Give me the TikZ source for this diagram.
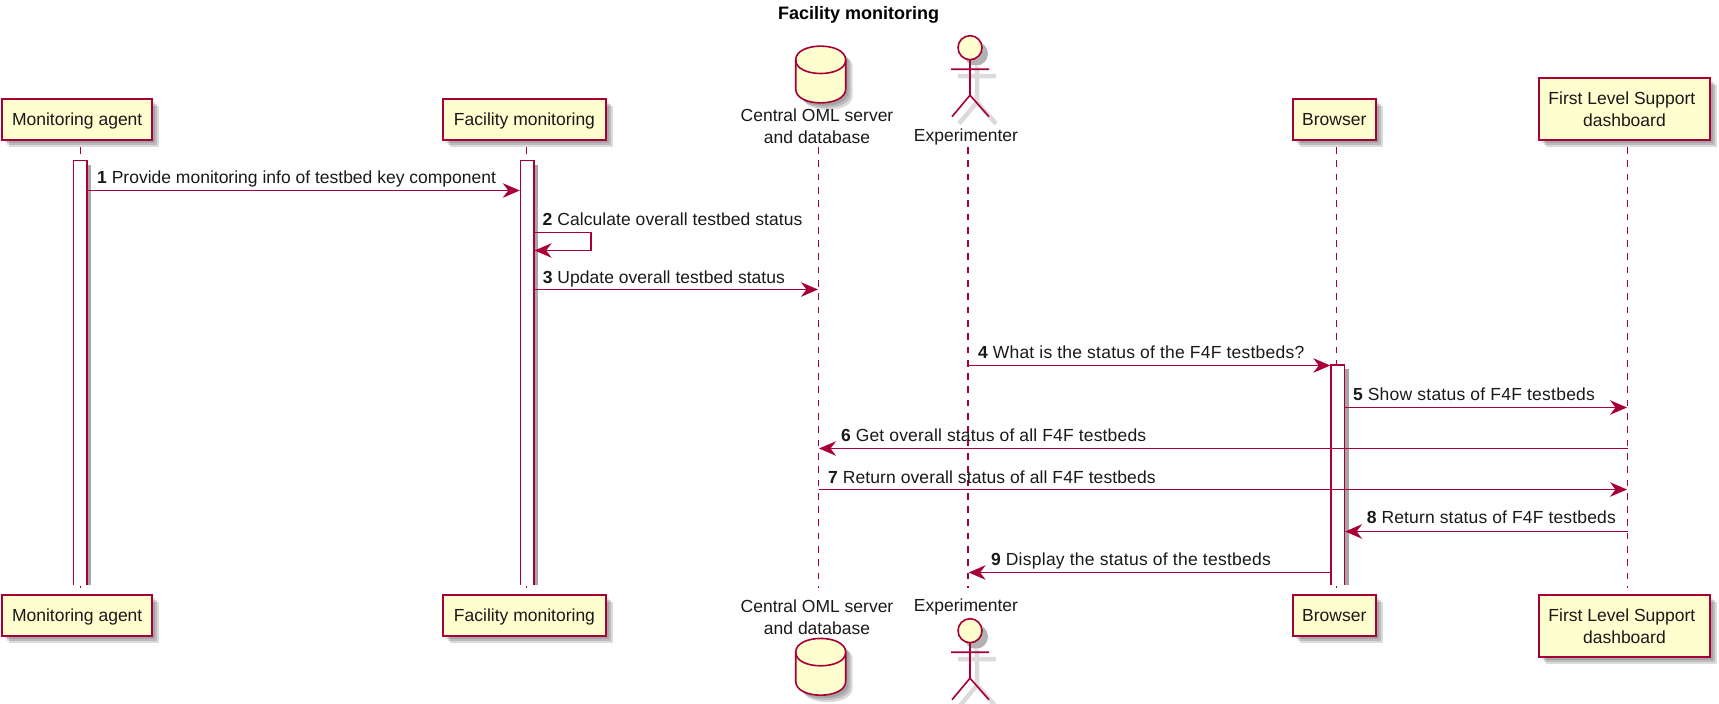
\documentclass[tikz,border=0pt]{standalone}
\usepackage{fontspec}
\setmainfont{Liberation Sans}
\usetikzlibrary{arrows.meta, shadows, calc}
\definecolor{umlRed}{HTML}{A80036}
\definecolor{umlFill}{HTML}{FEFECE}
\newcommand{\lblfont}{\fontsize{17.5}{21.7}\selectfont}

\tikzset{
  softshadow/.style={
    general shadow={shadow xshift=3pt, shadow yshift=-3pt, fill=black, opacity=.12},
    general shadow={shadow xshift=5pt, shadow yshift=-5pt, fill=black, opacity=.14},
    general shadow={shadow xshift=7pt, shadow yshift=-7pt, fill=black, opacity=.14}},
  partbox/.style={draw=umlRed, line width=1.8pt, fill=umlFill, softshadow, inner sep=0pt,
    align=center, font=\lblfont, text=black!90},
  oneline/.style={text height=12.4pt, text depth=0pt, minimum height=41pt},
  partlbl/.style={inner sep=0pt, align=center, font=\lblfont, text=black!90},
  lifeline/.style={draw=umlRed, line width=1.4pt, dash pattern=on 6.7pt off 6.6pt},
  actbar/.style={inner sep=0pt, fill=white, minimum width=13.4pt, minimum height=424.3pt},
  msg/.style={draw=umlRed, line width=1.4pt, -{Stealth[length=17pt, width=14.5pt, inset=5.5pt]}, shorten >=.5pt},
  msglbl/.style={anchor=west, inner sep=0pt, font=\lblfont, text=black!90},
  pics/dbicon/.style={code={
    \path[draw=umlRed, line width=1.6pt, fill=umlFill, softshadow]
      (-25,14) .. controls (-25,-4.5) and (25,-4.5) .. (25,14)
      -- (25,43) .. controls (25,61.5) and (-25,61.5) .. (-25,43) -- cycle;
    \draw[umlRed, line width=1.6pt] (-25,14) .. controls (-25,32) and (25,32) .. (25,14);
  }},
  pics/actoricon/.style={code={
    \begin{scope}[shift={(7,7)}, draw=black, opacity=.14, line width=4.5pt]
      \draw (0,12) -- (0,47.5) (-19,21.5) -- (19,21.5) (-18,69) -- (0,47.5) -- (19,69);
    \end{scope}
    \fill[black, opacity=.3] (6,6) circle (12);
    \draw[umlRed, line width=1.6pt, fill=umlFill] (0,0) circle (12);
    \draw[umlRed, line width=1.6pt] (0,12) -- (0,47.5) (-19,21.5) -- (19,21.5)
      (-18,69) -- (0,47.5) -- (19,69);
  }}
}

\begin{document}
\begin{tikzpicture}[x=1pt, y=-1pt]
  \useasboundingbox (0,0) rectangle (1719,704);

  % lifelines
  \foreach \nm/\xx in {Agent/80.5, Fac/526.5, Db/818.5, Exp/968.1, Brw/1336.5, Fls/1627.5} {
    \coordinate (top\nm) at (\xx,147);
    \coordinate (end\nm) at (\xx,588);
    \draw[lifeline] (top\nm) -- (end\nm);
  }

  % activation bars
  \foreach \nm/\xx/\yy/\hh in {Agent/80.2/373/424.3, Fac/527.2/373/424.3, Brw/1337.7/475/220} {
    \node[actbar, minimum height=\hh pt] (act\nm) at (\xx,\yy) {};
    \fill[black!35] (act\nm.north east) ++(0,4) rectangle ($(act\nm.south east)+(4,0)$);
    \draw[umlRed, line width=1.4pt] (act\nm.south west) |- (act\nm.north east) -- (act\nm.south east);
  }

  \node[font=\fontsize{18}{22}\selectfont\bfseries, inner sep=0pt] (title) at (858.7,14.5) {Facility monitoring};

  % participants, top and bottom
  \foreach \yy/\pos/\yyb in {119.5/T/109, 615.5/B/626} {
    \node[partbox, oneline, minimum width=150pt] (agent\pos) at (77.2,\yy) {Monitoring agent};
    \node[partbox, oneline, minimum width=163pt] (fac\pos) at (524.5,\yy) {Facility monitoring};
    \node[partbox, oneline, minimum width=83pt] (brw\pos) at (1334.3,\yy) {Browser};
    \node[partbox, minimum width=171pt, minimum height=62pt] (fls\pos) at (1624.4,\yyb) {First Level Support\hspace*{5pt}\\dashboard};
  }
  \node[partlbl] (dbT) at (817,126) {Central OML server\\and database};
  \node[partlbl] (dbB) at (817,617.5) {Central OML server\\and database};
  \node[partlbl] (expT) at (966,136.7) {Experimenter};
  \node[partlbl] (expB) at (966,606.7) {Experimenter};
  \pic at (820.7,46) {dbicon};
  \pic at (820.7,638.3) {dbicon};
  \pic at (970,47.7) {actoricon};
  \pic at (970,630.7) {actoricon};

  % messages
  \foreach \n/\yy/\from/\to/\lx/\ly/\ls/\txt in {
    1/190.5/actAgent.east/actFac.west/97/179/0/Provide monitoring info of testbed key component,
    3/289.5/actFac.east/topDb/542.6/278.5/.2/Update overall testbed status,
    4/365.5/topExp/actBrw.west/978/352/1.3/What is the status of the F4F testbeds?,
    5/407.5/actBrw.east/topFls/1353/394.5/1.4/Show status of F4F testbeds,
    6/448.5/topFls/topDb/841/435/1/Get overall status of all F4F testbeds,
    7/489.5/topDb/topFls/828/477/.6/Return overall status of all F4F testbeds,
    8/531.5/topFls/actBrw.east/1366.7/517.5/.9/Return status of F4F testbeds,
    9/572.5/actBrw.west/topExp/991/560.5/1.5/Display the status of the testbeds} {
    \coordinate (m\n) at (0,\yy);
    \draw[msg] (\from |- m\n) -- (\to |- m\n);
    \node[msglbl] (lbl\n) at (\lx,\ly) {\textbf{\n} {\addfontfeature{LetterSpace=\ls}\txt}};
  }
  \coordinate (m2) at (0,232.5);
  \coordinate (m2r) at (0,250.5);
  \draw[msg] (actFac.east |- m2) -- ++(57,0) |- (actFac.east |- m2r);
  \node[msglbl] (lbl2) at (542.5,219) {\textbf{2} {\addfontfeature{LetterSpace=.4}Calculate overall testbed status}};
\end{tikzpicture}
\end{document}
